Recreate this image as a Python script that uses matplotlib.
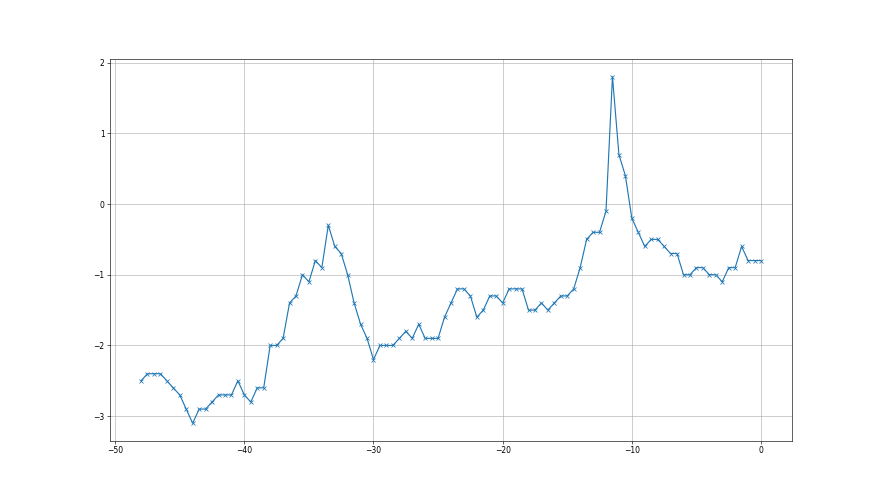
import numpy as np
import matplotlib
matplotlib.use("Agg")
import matplotlib.pyplot as plt

# x positions, every half step from -48 to 0
x_values = np.arange(-48, 0.01, 0.5)

# values
y_values = [
    -2.5, -2.4, -2.4, -2.4, -2.5, -2.6, -2.7, -2.9, -3.1, -2.9,
    -2.9, -2.8, -2.7, -2.7, -2.7, -2.5, -2.7, -2.8, -2.6, -2.6,
    -2.0, -2.0, -1.9, -1.4, -1.3, -1.0, -1.1, -0.8, -0.9, -0.3,
    -0.6, -0.7, -1.0, -1.4, -1.7, -1.9, -2.2, -2.0, -2.0, -2.0,
    -1.9, -1.8, -1.9, -1.7, -1.9, -1.9, -1.9, -1.6, -1.4, -1.2,
    -1.2, -1.3, -1.6, -1.5, -1.3, -1.3, -1.4, -1.2, -1.2, -1.2,
    -1.5, -1.5, -1.4, -1.5, -1.4, -1.3, -1.3, -1.2, -0.9, -0.5,
    -0.4, -0.4, -0.1, 1.8, 0.7, 0.4, -0.2, -0.4, -0.6, -0.5,
    -0.5, -0.6, -0.7, -0.7, -1.0, -1.0, -0.9, -0.9, -1.0, -1.0,
    -1.1, -0.9, -0.9, -0.6, -0.8, -0.8, -0.8,
]


def main():
    fig, ax = plt.subplots(figsize=(16, 9), dpi=55)
    ax.plot(x_values, y_values, marker="x")
    ax.grid(True)
    fig.savefig("out.png", dpi=55)


if __name__ == "__main__":
    main()
